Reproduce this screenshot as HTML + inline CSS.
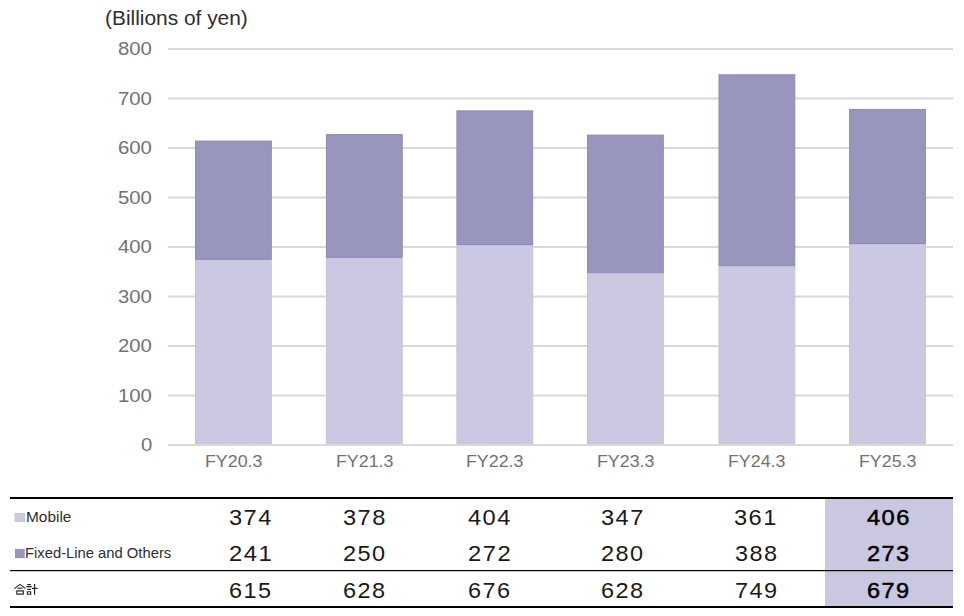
<!DOCTYPE html>
<html><head><meta charset="utf-8">
<style>
html,body{margin:0;padding:0;background:#fff;}
body{width:964px;height:616px;position:relative;overflow:hidden;font-family:"Liberation Sans",sans-serif;}
.t{position:absolute;white-space:nowrap;line-height:1;transform-origin:0 0;}
.sq{position:absolute;}
</style></head><body>
<svg width="964" height="616" style="position:absolute;left:0;top:0">
<rect x="168" y="48.00" width="785" height="2" fill="#d9d9d9"/>
<rect x="168" y="97.50" width="785" height="2" fill="#d9d9d9"/>
<rect x="168" y="147.00" width="785" height="2" fill="#d9d9d9"/>
<rect x="168" y="196.50" width="785" height="2" fill="#d9d9d9"/>
<rect x="168" y="246.00" width="785" height="2" fill="#d9d9d9"/>
<rect x="168" y="295.50" width="785" height="2" fill="#d9d9d9"/>
<rect x="168" y="345.00" width="785" height="2" fill="#d9d9d9"/>
<rect x="168" y="394.50" width="785" height="2" fill="#d9d9d9"/>
<rect x="195.50" y="260.37" width="75.8" height="184.63" fill="#cbc9e1" stroke="#c3c1dc" stroke-width="1"/>
<rect x="195.50" y="141.07" width="75.8" height="118.30" fill="#9896bf" stroke="#8d8ab7" stroke-width="1"/>
<rect x="326.40" y="258.39" width="75.8" height="186.61" fill="#cbc9e1" stroke="#c3c1dc" stroke-width="1"/>
<rect x="326.40" y="134.64" width="75.8" height="122.75" fill="#9896bf" stroke="#8d8ab7" stroke-width="1"/>
<rect x="456.90" y="245.52" width="75.8" height="199.48" fill="#cbc9e1" stroke="#c3c1dc" stroke-width="1"/>
<rect x="456.90" y="110.88" width="75.8" height="133.64" fill="#9896bf" stroke="#8d8ab7" stroke-width="1"/>
<rect x="587.50" y="273.74" width="75.8" height="171.26" fill="#cbc9e1" stroke="#c3c1dc" stroke-width="1"/>
<rect x="587.50" y="135.13" width="75.8" height="137.60" fill="#9896bf" stroke="#8d8ab7" stroke-width="1"/>
<rect x="719.00" y="266.81" width="75.8" height="178.19" fill="#cbc9e1" stroke="#c3c1dc" stroke-width="1"/>
<rect x="719.00" y="74.75" width="75.8" height="191.06" fill="#9896bf" stroke="#8d8ab7" stroke-width="1"/>
<rect x="849.60" y="244.53" width="75.8" height="200.47" fill="#cbc9e1" stroke="#c3c1dc" stroke-width="1"/>
<rect x="849.60" y="109.39" width="75.8" height="134.14" fill="#9896bf" stroke="#8d8ab7" stroke-width="1"/>
<rect x="168" y="444" width="785" height="2" fill="#d9d9d9"/>
<rect x="825" y="499" width="128" height="107" fill="#cac8e0"/>
<rect x="10" y="497" width="943" height="2" fill="#000"/>
<rect x="10" y="570" width="943" height="1.2" fill="#000"/>
<rect x="10" y="606" width="943" height="2" fill="#000"/>
<rect x="14.6" y="512.9" width="10.4" height="9.2" fill="#cbc9e1"/>
<rect x="15" y="548.9" width="9.8" height="9.2" fill="#9896bf"/>
<g fill="none" stroke="#262626" stroke-width="1.15" stroke-linecap="butt">
<path d="M14.3 588.6 L20 584.4 L25.6 588.6"/>
<path d="M17.4 588.2 H22.6"/>
<path d="M16.8 590.6 V594.6 M16.8 590.8 H23.3 V594.6 M16.8 594.1 H23.3"/>
<path d="M27.2 584.6 H30.9 M26.3 586.6 H31.8 M27.2 589.4 H30.9"/>
<path d="M27.4 591.6 V594.7 M27.4 591.7 H30.7 V594.7 M27.4 594.2 H30.7"/>
<path d="M34.6 584 V594.8 M32 588.4 H37.7"/>
</g>
</svg>
<div class="t" style="left:104.75px;top:8.67px;font-size:19.57px;transform:scaleX(1.0679);font-weight:normal;color:#2e2e2e">(Billions of yen)</div>
<div class="t" style="left:118.19px;top:40.45px;font-size:18.31px;transform:scaleX(1.1095);font-weight:normal;color:#727272">800</div>
<div class="t" style="left:118.19px;top:89.95px;font-size:18.31px;transform:scaleX(1.1095);font-weight:normal;color:#727272">700</div>
<div class="t" style="left:118.19px;top:139.45px;font-size:18.31px;transform:scaleX(1.1095);font-weight:normal;color:#727272">600</div>
<div class="t" style="left:118.19px;top:188.95px;font-size:18.31px;transform:scaleX(1.1095);font-weight:normal;color:#727272">500</div>
<div class="t" style="left:118.19px;top:238.45px;font-size:18.31px;transform:scaleX(1.1095);font-weight:normal;color:#727272">400</div>
<div class="t" style="left:118.19px;top:287.95px;font-size:18.31px;transform:scaleX(1.1095);font-weight:normal;color:#727272">300</div>
<div class="t" style="left:118.19px;top:337.45px;font-size:18.31px;transform:scaleX(1.1095);font-weight:normal;color:#727272">200</div>
<div class="t" style="left:118.19px;top:386.95px;font-size:18.31px;transform:scaleX(1.1095);font-weight:normal;color:#727272">100</div>
<div class="t" style="left:140.74px;top:436.45px;font-size:18.31px;transform:scaleX(1.1095);font-weight:normal;color:#727272">0</div>
<div class="t" style="left:204.68px;top:452.72px;font-size:17.18px;transform:scaleX(1.0363);font-weight:normal;color:#727272">FY20.3</div>
<div class="t" style="left:335.58px;top:452.72px;font-size:17.18px;transform:scaleX(1.0363);font-weight:normal;color:#727272">FY21.3</div>
<div class="t" style="left:466.08px;top:452.72px;font-size:17.18px;transform:scaleX(1.0363);font-weight:normal;color:#727272">FY22.3</div>
<div class="t" style="left:596.68px;top:452.72px;font-size:17.18px;transform:scaleX(1.0363);font-weight:normal;color:#727272">FY23.3</div>
<div class="t" style="left:728.18px;top:452.72px;font-size:17.18px;transform:scaleX(1.0363);font-weight:normal;color:#727272">FY24.3</div>
<div class="t" style="left:858.78px;top:452.72px;font-size:17.18px;transform:scaleX(1.0363);font-weight:normal;color:#727272">FY25.3</div>
<div class="t" style="left:25.67px;top:511.17px;font-size:13.91px;transform:scaleX(1.1087);font-weight:normal;color:#2e2e2e">Mobile</div>
<div class="t" style="left:25.32px;top:547.17px;font-size:13.91px;transform:scaleX(1.0627);font-weight:normal;color:#2e2e2e">Fixed-Line and Others</div>
<div class="t" style="left:229.11px;top:506.65px;font-size:21.69px;letter-spacing:1.35px;transform:scaleX(1.09);font-weight:normal;color:#1a1a1a">374</div>
<div class="t" style="left:342.56px;top:506.65px;font-size:21.69px;letter-spacing:1.35px;transform:scaleX(1.09);font-weight:normal;color:#1a1a1a">378</div>
<div class="t" style="left:468.26px;top:506.65px;font-size:21.69px;letter-spacing:1.35px;transform:scaleX(1.09);font-weight:normal;color:#1a1a1a">404</div>
<div class="t" style="left:600.66px;top:506.65px;font-size:21.69px;letter-spacing:1.35px;transform:scaleX(1.09);font-weight:normal;color:#1a1a1a">347</div>
<div class="t" style="left:734.41px;top:506.65px;font-size:21.69px;letter-spacing:1.35px;transform:scaleX(1.09);font-weight:normal;color:#1a1a1a">361</div>
<div class="t" style="left:867.36px;top:506.65px;font-size:21.69px;letter-spacing:1.35px;transform:scaleX(1.09);font-weight:normal;color:#000000;-webkit-text-stroke:0.5px #000">406</div>
<div class="t" style="left:228.96px;top:542.82px;font-size:21.86px;letter-spacing:1.35px;transform:scaleX(1.09);font-weight:normal;color:#1a1a1a">241</div>
<div class="t" style="left:342.69px;top:542.87px;font-size:21.55px;letter-spacing:1.35px;transform:scaleX(1.09);font-weight:normal;color:#1a1a1a">250</div>
<div class="t" style="left:468.11px;top:542.82px;font-size:21.86px;letter-spacing:1.35px;transform:scaleX(1.09);font-weight:normal;color:#1a1a1a">272</div>
<div class="t" style="left:600.79px;top:542.87px;font-size:21.55px;letter-spacing:1.35px;transform:scaleX(1.09);font-weight:normal;color:#1a1a1a">280</div>
<div class="t" style="left:734.54px;top:542.87px;font-size:21.55px;letter-spacing:1.35px;transform:scaleX(1.09);font-weight:normal;color:#1a1a1a">388</div>
<div class="t" style="left:867.49px;top:542.87px;font-size:21.55px;letter-spacing:1.35px;transform:scaleX(1.09);font-weight:normal;color:#000000;-webkit-text-stroke:0.5px #000">273</div>
<div class="t" style="left:229.24px;top:579.77px;font-size:21.55px;letter-spacing:1.35px;transform:scaleX(1.09);font-weight:normal;color:#1a1a1a">615</div>
<div class="t" style="left:342.69px;top:579.77px;font-size:21.55px;letter-spacing:1.35px;transform:scaleX(1.09);font-weight:normal;color:#1a1a1a">628</div>
<div class="t" style="left:468.39px;top:579.77px;font-size:21.55px;letter-spacing:1.35px;transform:scaleX(1.09);font-weight:normal;color:#1a1a1a">676</div>
<div class="t" style="left:600.79px;top:579.77px;font-size:21.55px;letter-spacing:1.35px;transform:scaleX(1.09);font-weight:normal;color:#1a1a1a">628</div>
<div class="t" style="left:734.54px;top:579.77px;font-size:21.55px;letter-spacing:1.35px;transform:scaleX(1.09);font-weight:normal;color:#1a1a1a">749</div>
<div class="t" style="left:867.49px;top:579.77px;font-size:21.55px;letter-spacing:1.35px;transform:scaleX(1.09);font-weight:normal;color:#000000;-webkit-text-stroke:0.5px #000">679</div>
</body></html>
